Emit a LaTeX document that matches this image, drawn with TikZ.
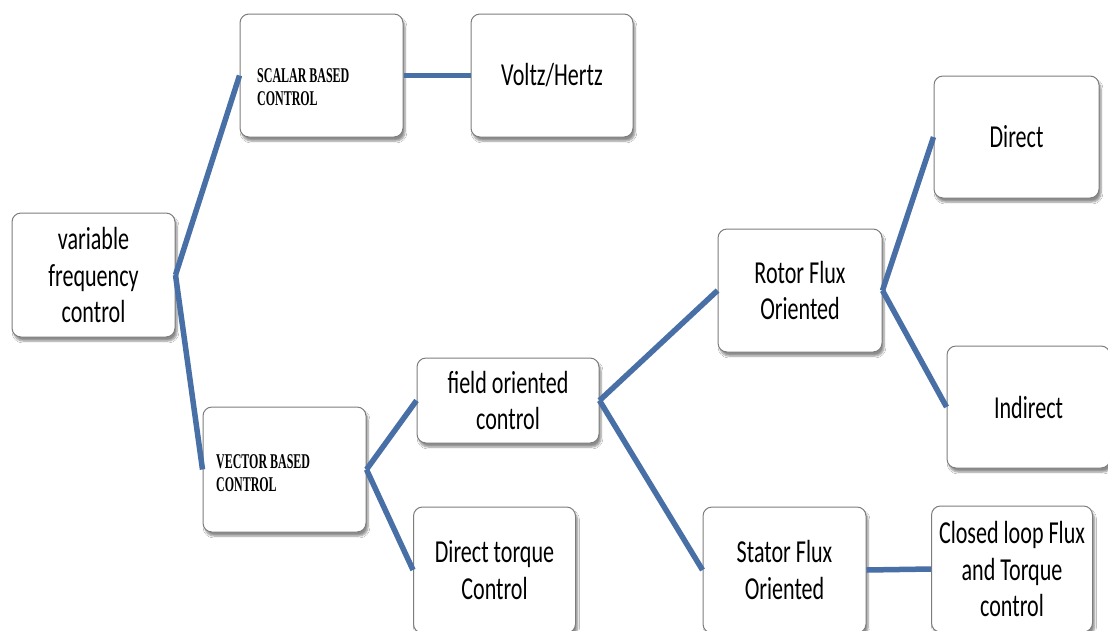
\documentclass[tikz,border=0pt]{standalone}
\usepackage{fontspec}
\setmainfont{Carlito}[FakeStretch=0.69]
\newfontfamily\capsfont{Liberation Serif}[FakeStretch=0.57]
\usetikzlibrary{shadows.blur}
\definecolor{linkblue}{RGB}{72,111,166}
\definecolor{boxline}{RGB}{125,125,125}
\begin{document}
\begin{tikzpicture}[x=1pt,y=-1pt,
  box/.style={draw=boxline, line width=1pt, fill=white, rounded corners=9pt,
    align=center, inner sep=0pt, font=\fontsize{32}{36.5}\selectfont,
    blur shadow={shadow xshift=2pt, shadow yshift=-4pt, shadow blur steps=6, shadow opacity=45}},
  caps/.style={anchor=base west, align=left, inner sep=0pt,
    font=\capsfont\bfseries\fontsize{21}{23}\selectfont},
  link/.style={draw=linkblue, line width=5.5pt}]
\clip (0,0) rectangle (1108,630);
\fill[white] (0,0) rectangle (1108,630);

% boxes
\node[box, minimum width=163pt, minimum height=124pt] (vfc) at (93.5,275) {variable\\frequency\\control};
\node[box, minimum width=163pt, minimum height=123pt] (scalar) at (321.5,75.5) {};
\node[box, minimum width=162pt, minimum height=123pt] (vh) at (552,75.5) {Voltz/Hertz};
\node[box, minimum width=163pt, minimum height=125pt] (vector) at (284.5,469.5) {};
\node[box, minimum width=182pt, minimum height=85pt] (foc) at (508,400.5) {field oriented\\control};
\node[box, minimum width=162pt, minimum height=126pt] (dtc) at (494.5,570) {Direct torque\\Control};
\node[box, minimum width=164pt, minimum height=123pt] (rotor) at (800,290.5) {Rotor Flux\\Oriented};
\node[box, minimum width=163pt, minimum height=126pt] (stator) at (784.5,570) {Stator Flux\\Oriented};
\node[box, minimum width=165pt, minimum height=122pt] (direct) at (1016.5,137) {Direct};
\node[box, minimum width=163pt, minimum height=122pt] (indirect) at (1028.5,407) {Indirect};
\node[box, minimum width=161pt, minimum height=126pt] (closed) at (1012,569) {Closed loop Flux\\and Torque\\control};

% serif labels of the two main branches (base = last line)
\node[caps] (scalartxt) at (257,105) {SCALAR BASED\\CONTROL};
\node[caps] (vectortxt) at (216,491) {VECTOR BASED\\CONTROL};

% connectors
\draw[link] (vfc.east) -- (scalar.west);
\draw[link] (vfc.east) -- (vector.west);
\draw[link] (scalar.east) -- (vh.west);
\draw[link] (vector.east) -- (foc.west);
\draw[link] (vector.east) -- (dtc.west);
\draw[link] (foc.east) -- (rotor.west);
\draw[link] (foc.east) -- (stator.west);
\draw[link] (rotor.east) -- (direct.west);
\draw[link] (rotor.east) -- (indirect.west);
\draw[link] (stator.east) -- (closed.west);
\end{tikzpicture}
\end{document}
